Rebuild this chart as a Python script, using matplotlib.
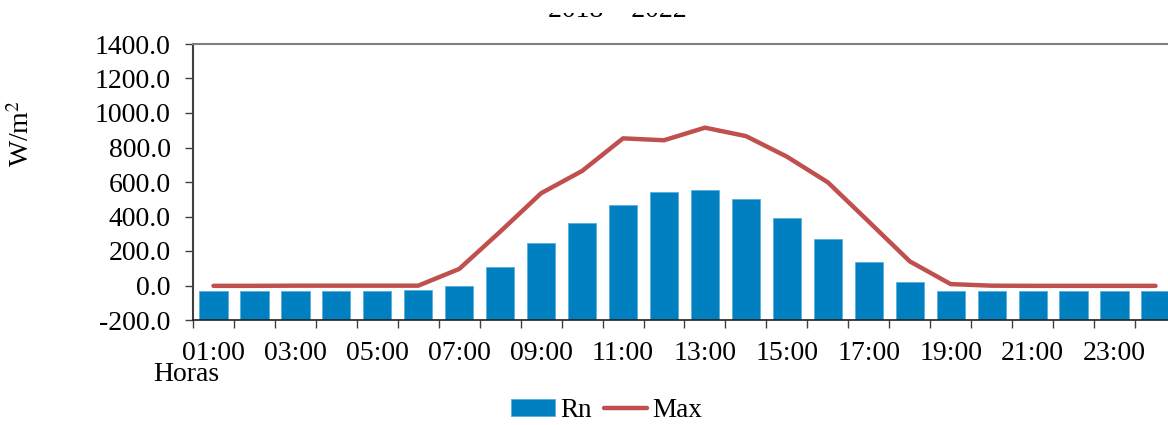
import numpy as np
import matplotlib.pyplot as plt

# data (hourly values, W/m2)
hours = [f'{h:02d}:00' for h in range(1, 25)]
rn = [-30, -30, -30, -29, -29, -28, 0, 109, 246, 362, 465, 540,
      554, 500, 393, 267, 138, 19, -34, -34, -34, -34, -34, -34]
rmax = [-2, -2, -1, -1, -1, -1, 96, 312, 535, 664, 853, 842,
        915, 866, 747, 598, 370, 140, 8, -1, -2, -2, -2, -2]
y_ticks = [-200, 0, 200, 400, 600, 800, 1000, 1200, 1400]

plt.rcParams['font.family'] = ['Liberation Serif', 'DejaVu Serif']
fs = 20

W, H = 1168, 425
fig = plt.figure(figsize=(W / 100, H / 100), dpi=100)
ax = fig.add_axes([193 / W, (H - 320) / H, (1176 - 193) / W, 276 / H])

x = np.arange(len(hours))
base = y_ticks[0]
bars = ax.bar(x, np.array(rn) - base, bottom=base, width=0.69, color='#0080C0',
              edgecolor='#5AAEDC', linewidth=0.6, label='Rn', zorder=2)
line, = ax.plot(x, rmax, color='#C0504D', lw=3.2, solid_capstyle='round',
                solid_joinstyle='round', label='Max', zorder=3)

ax.set_xlim(-0.5, len(hours) - 0.5)
ax.set_ylim(y_ticks[0], y_ticks[-1])
ax.set_yticks(y_ticks)
ax.set_yticklabels([f'{v:.1f}' for v in y_ticks], fontsize=fs)
ax.tick_params(axis='y', length=6, width=1, pad=10, color='#404040')

ax.set_xticks(x[::2])
ax.set_xticklabels(hours[::2], fontsize=fs)
ax.set_xticks(np.arange(-0.5, len(hours), 1), minor=True)
ax.tick_params(axis='x', which='major', length=0, pad=15)
ax.tick_params(axis='x', which='minor', length=6, width=1, color='#404040')

ax.spines['top'].set_color('#808080')
ax.spines['top'].set_linewidth(1.5)
ax.spines['left'].set_color('#404040')
ax.spines['left'].set_linewidth(1.5)
ax.spines['bottom'].set_color('#202020')
ax.spines['bottom'].set_linewidth(1.2)
ax.spines['right'].set_visible(False)

fig.text(22 / W, (H - 133) / H, 'W/m$^2$', rotation=90, ha='center',
         va='center', fontsize=fs, math_fontfamily='stix')
fig.text(153 / W, (H - 381) / H, 'Horas', ha='left', va='baseline', fontsize=fs)

# title, mostly cut off by the top edge
tax = fig.add_axes([0, 1 - 18 / H, 1, 5.5 / H])
tax.axis('off')
t = tax.text(617 / W, 1 / 5.5, '2018 – 2022', transform=tax.transAxes,
             ha='center', va='baseline', fontsize=fs)
t.set_clip_path(None)
t.set_clip_box(tax.bbox)
t.set_clip_on(True)

fig.legend([bars, line], ['Rn', 'Max'], loc='lower center',
           bbox_to_anchor=(607 / W, -0.052), ncol=2,
           frameon=False, fontsize=fs - 0.5, handlelength=1.6, handleheight=0.6,
           handletextpad=0.2, columnspacing=0.45)

fig.savefig('out.png', dpi=100)
